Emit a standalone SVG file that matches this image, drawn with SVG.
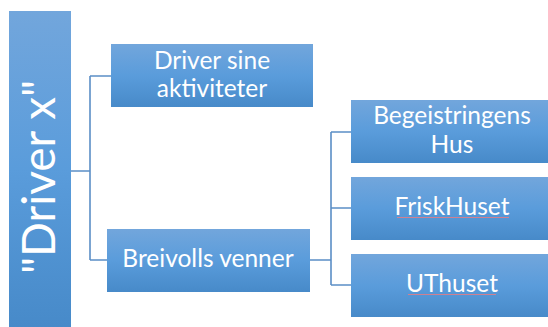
<svg xmlns="http://www.w3.org/2000/svg" width="548" height="327" viewBox="0 0 548 327">
<defs>
<linearGradient id="g" x1="0" y1="0" x2="0" y2="1">
<stop offset="0" stop-color="#72A6DC"/>
<stop offset="0.5" stop-color="#5A9CDB"/>
<stop offset="1" stop-color="#478AC9"/>
</linearGradient>
</defs>
<style>
.box{fill:url(#g);}
.t{font-family:Lato,"Noto Sans",sans-serif;fill:#fff;text-anchor:middle;font-size:24.5px;}
.c{fill:none;stroke:#5B8EC6;stroke-width:1.6;}
.sp{fill:none;stroke:#D08090;stroke-width:1;}
</style>
<g id="connectors">
<path class="c" d="M71 171H90M90 76V260M90 76H111M90 260H107"/>
<path class="c" d="M310 260H331M331 132V285M331 132H351M331 208H351M331 285H351"/>
</g>
<g id="root">
<rect class="box" x="9" y="11" width="62" height="316"/>
<text class="t" transform="translate(55 177) rotate(-90)" style="font-size:46px">"Driver x"</text>
</g>
<g id="n1">
<rect class="box" x="111" y="44" width="202" height="63"/>
<text class="t" x="212" y="69">Driver sine</text>
<text class="t" x="212" y="97">aktiviteter</text>
</g>
<g id="n2">
<rect class="box" x="107" y="229" width="203" height="63"/>
<text class="t" x="208" y="267">Breivolls venner</text>
</g>
<g id="n3">
<rect class="box" x="351" y="100" width="197" height="63"/>
<text class="t" x="452" y="124">Begeistringens</text>
<text class="t" x="452" y="153">Hus</text>
</g>
<g id="n4">
<rect class="box" x="351" y="177" width="197" height="63"/>
<text class="t" x="452" y="215">FriskHuset</text>
<path class="sp" d="M397 217.5H509"/>
</g>
<g id="n5">
<rect class="box" x="351" y="254" width="197" height="63"/>
<text class="t" x="452" y="292">UThuset</text>
<path class="sp" d="M408 294.5H496"/>
</g>
</svg>
